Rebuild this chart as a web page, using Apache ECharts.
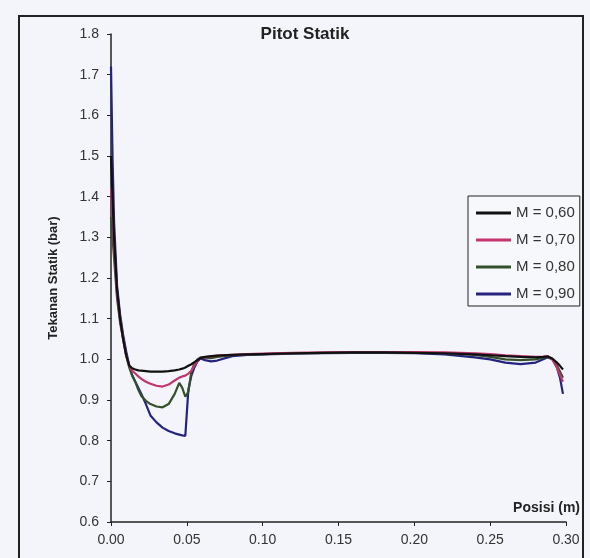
<!DOCTYPE html>
<html>
<head>
<meta charset="utf-8">
<script src="https://cdn.jsdelivr.net/npm/echarts@6/dist/echarts.min.js"></script>
<style>
html,body{margin:0;padding:0;background:#f3f5fa;}
#c{width:590px;height:558px;}
</style>
</head>
<body>
<div id="c"></div>
<script>
const positions = [0, 0.001, 0.002, 0.004, 0.006, 0.008, 0.010, 0.012, 0.014, 0.016, 0.018, 0.020, 0.023, 0.026, 0.030, 0.034, 0.038, 0.042, 0.045, 0.047, 0.049, 0.050, 0.051, 0.053, 0.055, 0.057, 0.059, 0.062, 0.066, 0.070, 0.080, 0.090, 0.100, 0.120, 0.140, 0.160, 0.180, 0.200, 0.220, 0.240, 0.250, 0.260, 0.270, 0.280, 0.285, 0.288, 0.291, 0.294, 0.296, 0.298];
const m060 = [1.50, 1.40, 1.30, 1.17, 1.10, 1.05, 1.01, 0.985, 0.978, 0.975, 0.973, 0.972, 0.971, 0.970, 0.970, 0.970, 0.971, 0.973, 0.975, 0.977, 0.980, 0.982, 0.984, 0.988, 0.993, 0.998, 1.003, 1.006, 1.008, 1.009, 1.011, 1.012, 1.013, 1.015, 1.016, 1.017, 1.017, 1.016, 1.015, 1.012, 1.010, 1.008, 1.006, 1.005, 1.006, 1.007, 1.002, 0.992, 0.984, 0.975];
const m070 = [1.42, 1.36, 1.28, 1.16, 1.10, 1.05, 1.01, 0.985, 0.972, 0.965, 0.958, 0.952, 0.945, 0.940, 0.935, 0.933, 0.938, 0.948, 0.955, 0.958, 0.960, 0.962, 0.965, 0.972, 0.985, 0.997, 1.003, 1.005, 1.007, 1.009, 1.011, 1.013, 1.014, 1.016, 1.017, 1.018, 1.018, 1.018, 1.017, 1.015, 1.013, 1.010, 1.008, 1.006, 1.007, 1.008, 1.000, 0.980, 0.962, 0.945];
const m080 = [1.35, 1.30, 1.25, 1.15, 1.09, 1.05, 1.01, 0.980, 0.960, 0.945, 0.925, 0.910, 0.898, 0.890, 0.884, 0.882, 0.890, 0.915, 0.942, 0.930, 0.908, 0.905, 0.920, 0.970, 0.990, 1.000, 1.005, 1.004, 1.003, 1.006, 1.010, 1.012, 1.013, 1.015, 1.016, 1.017, 1.017, 1.016, 1.015, 1.011, 1.006, 1.000, 0.998, 1.000, 1.004, 1.006, 1.000, 0.985, 0.970, 0.955];
const m090 = [1.72, 1.50, 1.34, 1.18, 1.11, 1.06, 1.02, 0.985, 0.960, 0.945, 0.930, 0.915, 0.890, 0.862, 0.845, 0.832, 0.824, 0.818, 0.815, 0.813, 0.812, 0.812, 0.925, 0.960, 0.980, 0.995, 1.002, 0.998, 0.995, 0.997, 1.008, 1.011, 1.012, 1.014, 1.015, 1.016, 1.016, 1.015, 1.012, 1.005, 1.000, 0.992, 0.988, 0.992, 1.000, 1.005, 1.000, 0.980, 0.955, 0.915];
const seriesNames = ['M = 0,60', 'M = 0,70', 'M = 0,80', 'M = 0,90'];
const seriesColors = ['#111111', '#c2356f', '#34502a', '#24247e'];
const xTicks = [0, 0.05, 0.10, 0.15, 0.20, 0.25, 0.30];
const yTicks = [0.6, 0.7, 0.8, 0.9, 1.0, 1.1, 1.2, 1.3, 1.4, 1.5, 1.6, 1.7, 1.8];

const allValues = [m060, m070, m080, m090];
const chart = echarts.init(document.getElementById('c'), null, {renderer: 'canvas'});
const font = 'Liberation Sans, Arial, sans-serif';

chart.setOption({
  backgroundColor: '#f3f5fa',
  animation: false,
  grid: {left: 111, right: 24, top: 34, bottom: 36, containLabel: false},
  xAxis: {
    type: 'value', min: xTicks[0], max: xTicks[xTicks.length - 1], interval: 0.05,
    axisLine: {show: true, onZero: false, lineStyle: {color: '#222', width: 1.5}},
    axisTick: {show: true, length: 4, lineStyle: {color: '#222'}},
    splitLine: {show: false},
    axisLabel: {color: '#333', fontSize: 14, fontFamily: font, margin: 11,
      formatter: v => v.toFixed(2)}
  },
  yAxis: {
    type: 'value', min: yTicks[0], max: yTicks[yTicks.length - 1], interval: 0.1,
    name: 'Tekanan Statik (bar)', nameLocation: 'middle', nameGap: 51, nameRotate: 90,
    nameTextStyle: {color: '#222', fontSize: 13, fontWeight: 'bold', fontFamily: font},
    axisLine: {show: true, onZero: false, lineStyle: {color: '#222', width: 1.5}},
    axisTick: {show: true, length: 4, lineStyle: {color: '#222'}},
    splitLine: {show: false},
    axisLabel: {color: '#333', fontSize: 14, fontFamily: font, margin: 12,
      formatter: v => v.toFixed(1)}
  },
  legend: {
    orient: 'vertical', left: 468, top: 196,
    backgroundColor: '#f7f8fb',
    borderColor: '#222', borderWidth: 1,
    padding: [9, 5, 4, 8], itemGap: 11,
    icon: 'rect', itemWidth: 35, itemHeight: 3,
    textStyle: {color: '#333', fontSize: 15, fontFamily: font, lineHeight: 16},
    data: seriesNames
  },
  graphic: [
    {type: 'rect', silent: true, z: 0,
      shape: {x: 19, y: 16, width: 564, height: 570},
      style: {fill: null, stroke: '#222', lineWidth: 2}},
    {type: 'text', x: 305, y: 34, z: 10,
      style: {text: 'Pitot Statik', fill: '#222', font: 'bold 17px ' + font, textAlign: 'center', textVerticalAlign: 'middle'}},
    {type: 'text', x: 580, y: 508, z: 10,
      style: {text: 'Posisi (m)', fill: '#222', font: 'bold 14px ' + font, textAlign: 'right', textVerticalAlign: 'middle'}}
  ],
  series: seriesNames.map((n, i) => ({
    name: n, type: 'line', showSymbol: false, symbol: 'none',
    color: seriesColors[i],
    lineStyle: {width: 2.2, color: seriesColors[i]},
    z: 10 - i,
    data: positions.map((x, k) => [x, allValues[i][k]])
  }))
});
</script>
</body>
</html>
